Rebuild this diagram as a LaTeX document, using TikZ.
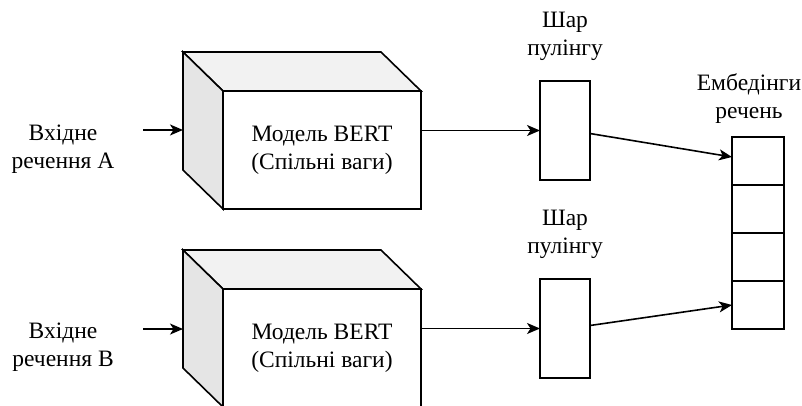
\documentclass[tikz,border=0pt]{standalone}
\usepackage{fontspec}
\setmainfont{Liberation Serif}
\usetikzlibrary{arrows.meta,calc}
\definecolor{topgray}{HTML}{F2F2F2}
\definecolor{sidegray}{HTML}{E5E5E5}
\begin{document}
\begin{tikzpicture}[x=1pt,y=-1pt,line width=1.6pt,
  txt/.style={align=center,font=\fontsize{23.5}{28}\selectfont,inner sep=0pt},
  front/.style={draw,fill=white,outer sep=0pt,minimum width=198pt,minimum height=118pt,align=center,font=\fontsize{23.5}{28}\selectfont},
  pool/.style={draw,fill=white,outer sep=0pt,minimum width=50pt,minimum height=99pt},
  cell/.style={draw,fill=white,outer sep=0pt,minimum width=52pt,minimum height=48pt},
  arr/.style={-{Stealth[length=13pt,width=11pt,inset=3.5pt]}}]
\clip (0,0) rectangle (802,405);
% cube A
\node[front] (fa) at (322,150) {Модель BERT\\(Спільні ваги)};
\coordinate (fabnw) at ($(fa.north west)+(-40,-39)$);
\coordinate (fabne) at ($(fa.north east)+(-40,-39)$);
\coordinate (fabsw) at ($(fa.south west)+(-40,-39)$);
\draw[fill=topgray] (fa.north west) -- (fabnw) -- (fabne) -- (fa.north east) -- cycle;
\draw[fill=sidegray] (fa.north west) -- (fabnw) -- (fabsw) -- (fa.south west) -- cycle;
% cube B
\node[front] (fb) at (322,348) {Модель BERT\\(Спільні ваги)};
\coordinate (fbbnw) at ($(fb.north west)+(-40,-39)$);
\coordinate (fbbne) at ($(fb.north east)+(-40,-39)$);
\coordinate (fbbsw) at ($(fb.south west)+(-40,-39)$);
\draw[fill=topgray] (fb.north west) -- (fbbnw) -- (fbbne) -- (fb.north east) -- cycle;
\draw[fill=sidegray] (fb.north west) -- (fbbnw) -- (fbbsw) -- (fb.south west) -- cycle;
% inputs
\node[txt] (inA) at (63,149) {Вхідне\\речення A};
\node[txt] (inB) at (63,347) {Вхідне\\речення B};
\coordinate (sA) at (143,130);
\coordinate (sB) at (143,329);
\draw[arr] (sA) -- (sA -| fabnw);
\draw[arr] (sB) -- (sB -| fbbnw);
% pooling
\node[pool] (pA) at (565,130.5) {};
\node[pool] (pB) at (565,328.5) {};
\node[txt] (lA) at (565,36) {Шар\\пулінгу};
\node[txt] (lB) at (565,234) {Шар\\пулінгу};
\draw[arr] (fa.east |- pA.west) -- (pA.west);
\draw[arr] (fb.east |- pB.west) -- (pB.west);
% embeddings
\node[cell] (e1) at (758,161) {};
\node[cell] (e2) at (758,209) {};
\node[cell] (e3) at (758,257) {};
\node[cell] (e4) at (758,305) {};
\node[txt] (lE) at (749,99) {Ембедінги\\речень};
\draw[arr] ($(pA.east)+(0,3)$) -- ($(e1.west)+(0,-4)$);
\draw[arr] ($(pB.east)+(0,-3)$) -- (e4.west);
\end{tikzpicture}
\end{document}
